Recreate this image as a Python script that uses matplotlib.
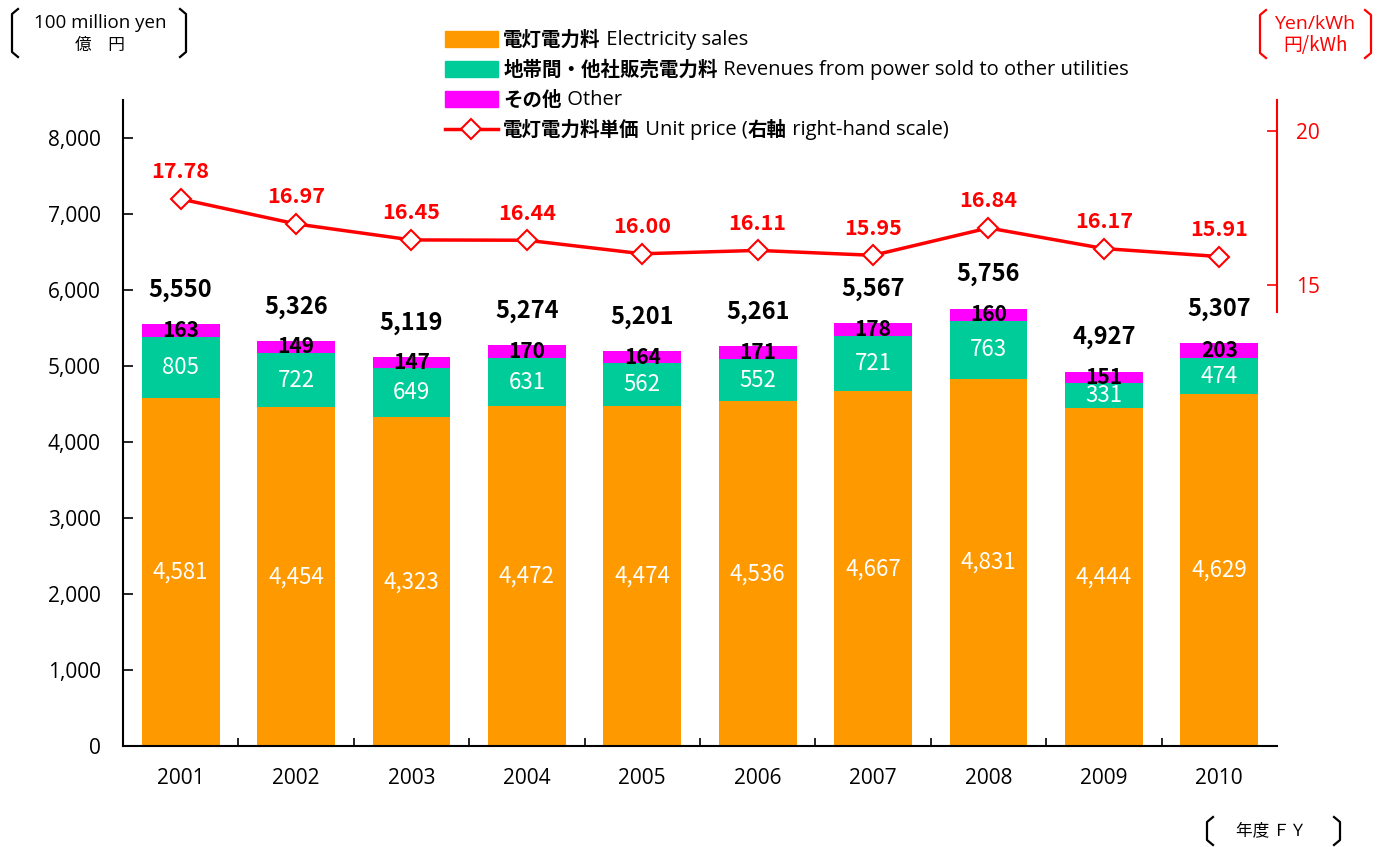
import matplotlib
matplotlib.use("Agg")
import matplotlib.pyplot as plt
from matplotlib.patches import Patch
from matplotlib.lines import Line2D
import numpy as np

plt.rcParams['font.family'] = ['Noto Sans CJK JP', 'DejaVu Sans']

years = ['2001', '2002', '2003', '2004', '2005', '2006', '2007', '2008', '2009', '2010']
electricity = [4581, 4454, 4323, 4472, 4474, 4536, 4667, 4831, 4444, 4629]
revenues = [805, 722, 649, 631, 562, 552, 721, 763, 331, 474]
other = [163, 149, 147, 170, 164, 171, 178, 160, 151, 203]
totals = [5550, 5326, 5119, 5274, 5201, 5261, 5567, 5756, 4927, 5307]
unit_price = [17.78, 16.97, 16.45, 16.44, 16.00, 16.11, 15.95, 16.84, 16.17, 15.91]

# legend texts: (text, is_japanese_bold) pieces
legend_parts = [
    [('電灯電力料', True), (' Electricity sales', False)],
    [('地帯間・他社販売電力料', True), (' Revenues from power sold to other utilities', False)],
    [('その他', True), (' Other', False)],
    [('電灯電力料単価', True), (' Unit price (', False), ('右軸', True), (' right-hand scale)', False)],
]

ORANGE = '#FF9900'
GREEN = '#00CC99'
MAGENTA = '#FF00FF'
RED = '#FF0000'
LATIN = 'Open Sans'

W, H = 1388, 847
fig = plt.figure(figsize=(W / 100, H / 100), dpi=100)
ax = fig.add_axes([0.0886, 0.1192, 0.8314, 0.7628])

x = np.arange(len(years))
w = 0.675
elec = np.array(electricity)
rev = np.array(revenues)
oth = np.array(other)

ax.bar(x, elec, w, color=ORANGE, zorder=2)
ax.bar(x, rev, w, bottom=elec, color=GREEN, zorder=2)
ax.bar(x, oth, w, bottom=elec + rev, color=MAGENTA, zorder=2)

for i in range(len(x)):
    ax.text(x[i], elec[i] / 2, f'{electricity[i]:,}', ha='center', va='center',
            color='white', fontsize=16)
    ax.text(x[i], elec[i] + rev[i] / 2, f'{revenues[i]:,}', ha='center', va='center',
            color='white', fontsize=16)
    ax.text(x[i], elec[i] + rev[i] + oth[i] / 2, f'{other[i]:,}', ha='center', va='center',
            color='black', fontsize=15, fontweight='bold', zorder=4)
    ax.annotate(f'{totals[i]:,}', (x[i], elec[i] + rev[i] + oth[i]), xytext=(0, 16),
                textcoords='offset points', ha='center', va='bottom',
                fontsize=17, fontweight='bold', color='black')

ax.set_xlim(-0.5, len(years) - 0.5)
ax.set_ylim(0, 8500)
ax.set_yticks(range(0, 8001, 1000))
ax.set_yticklabels([f'{v:,}' for v in range(0, 8001, 1000)], fontsize=15, family=LATIN)
ax.set_xticks(x)
ax.set_xticklabels(years, fontsize=15, family=LATIN)
ax.set_xticks(x[:-1] + 0.5, minor=True)
ax.tick_params(axis='x', which='major', length=0, pad=16)
ax.tick_params(axis='x', which='minor', direction='in', length=6, width=1.2)
ax.tick_params(axis='y', direction='in', length=7, width=1.2, pad=16)
for s in ['top', 'right']:
    ax.spines[s].set_visible(False)
ax.spines['left'].set_linewidth(1.5)
ax.spines['bottom'].set_linewidth(1.5)

ax2 = ax.twinx()
ax2.set_ylim(0, 21)
ax2.plot(x, unit_price, color=RED, lw=2.5, marker='D', markersize=10,
         markerfacecolor='white', markeredgecolor=RED, markeredgewidth=1.5, zorder=5)
for i in range(len(x)):
    ax2.annotate(f'{unit_price[i]:.2f}', (x[i], unit_price[i]), xytext=(0, 12),
                 textcoords='offset points', ha='center', va='bottom',
                 fontsize=15.5, fontweight='bold', color=RED)
ax2.set_yticks([15, 20])
ax2.set_yticklabels(['15', '20'], fontsize=15, color=RED, family=LATIN)
ax2.tick_params(axis='y', direction='in', length=7, width=1.2, colors=RED, pad=14)
for s in ['top', 'left', 'bottom']:
    ax2.spines[s].set_visible(False)
ax2.spines['right'].set_color(RED)
ax2.spines['right'].set_linewidth(1.5)
ax2.spines['right'].set_bounds(14.1, 21)

# legend: first japanese piece comes from the legend, the rest is placed after it
handles = [
    Patch(color=ORANGE),
    Patch(color=GREEN),
    Patch(color=MAGENTA),
    Line2D([], [], color=RED, lw=2.5, marker='D', markersize=10, markerfacecolor='white',
           markeredgecolor=RED, markeredgewidth=1.5),
]
leg = fig.legend(handles, [p[0][0] for p in legend_parts], loc='upper left',
                 bbox_to_anchor=(445 / W, 1 - 30 / H), frameon=False,
                 prop={'size': 14, 'weight': 'bold'}, handlelength=2.7,
                 handleheight=0.9, labelspacing=0.56, handletextpad=0.3, borderpad=0,
                 borderaxespad=0)
fig.canvas.draw()
renderer = fig.canvas.get_renderer()
for t, parts in zip(leg.get_texts(), legend_parts):
    bb = t.get_window_extent(renderer)
    xpos = bb.x1
    ymid = (bb.y0 + bb.y1) / 2 / H
    for txt, jp in parts[1:]:
        if jp:
            tt = fig.text(xpos / W, ymid, txt, ha='left', va='center', fontsize=14,
                          fontweight='bold')
        else:
            tt = fig.text(xpos / W, ymid, txt, ha='left', va='center', fontsize=14.5,
                          family=LATIN)
        xpos = tt.get_window_extent(renderer).x1


def bracket(x0, x1, y0, y1, color):
    # figure-pixel coordinates, origin top-left
    for xa, sgn in [(x0, 1), (x1, -1)]:
        xs = [xa + sgn * 6, xa, xa, xa + sgn * 6]
        ys = [y0, y0 + 5, y1 - 5, y1]
        fig.add_artist(Line2D([v / W for v in xs], [1 - v / H for v in ys],
                              color=color, lw=1.6, transform=fig.transFigure))


bracket(12, 186, 9, 57, 'black')
fig.text(100 / W, 1 - 23 / H, '100 million yen', ha='center', va='center', fontsize=13.5,
         family=LATIN)
fig.text(100 / W, 1 - 45 / H, '億　円', ha='center', va='center', fontsize=12)

bracket(1260, 1371, 10, 58, RED)
fig.text(1315 / W, 1 - 24 / H, 'Yen/kWh', ha='center', va='center', fontsize=14, color=RED,
         family=LATIN)
fig.text(1315 / W, 1 - 46 / H, '円/kWh', ha='center', va='center', fontsize=13.5, color=RED)

bracket(1207, 1340, 817, 845, 'black')
fig.text(1271 / W, 1 - 831 / H, '年度 ＦＹ', ha='center', va='center', fontsize=12)

fig.savefig('out.png', dpi=100)
